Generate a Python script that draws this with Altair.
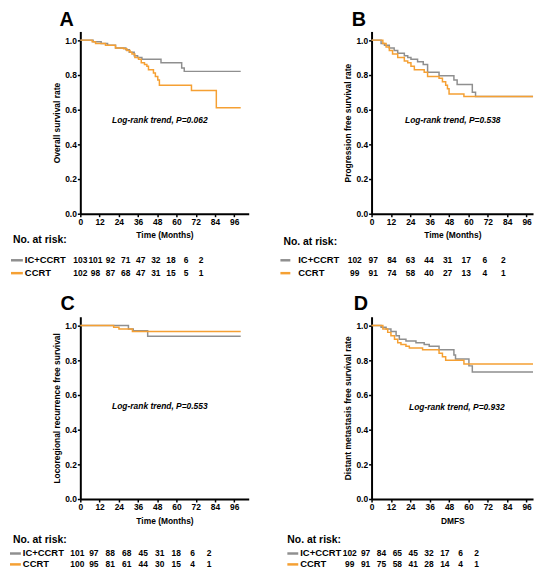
import altair as alt
import pandas as pd

FONT = "Liberation Sans"
groups = ["IC+CCRT", "CCRT"]
colors = ["#8f8f8f", "#f5a033"]
x_ticks = [0, 12, 24, 36, 48, 60, 72, 84, 96]
y_ticks = [0.0, 0.2, 0.4, 0.6, 0.8, 1.0]

# ---- Panel A: overall survival ----
a_ic_t = [0, 8, 13, 17, 22, 28.4, 30.5, 33.6, 35.7, 38.4, 50.3, 63.2, 64.8, 100]
a_ic_v = [1.0, 0.99, 0.98, 0.97, 0.955, 0.945, 0.93, 0.91, 0.90, 0.89, 0.87, 0.84, 0.82, 0.82]
a_cc_t = [0, 7.4, 9.5, 15.7, 21.9, 27, 29, 31, 32.2, 34, 36.3, 38, 40, 41.5, 42.5, 45.6, 46.8, 48.3, 49.3, 69.3, 84.8, 100]
a_cc_v = [1.0, 0.99, 0.98, 0.97, 0.955, 0.95, 0.94, 0.93, 0.92, 0.90, 0.89, 0.87, 0.86, 0.85, 0.83, 0.81, 0.79, 0.77, 0.74, 0.71, 0.61, 0.61]

# ---- Panel B: progression free survival ----
b_ic_t = [0, 5.9, 8, 11, 14, 16.2, 20.3, 22.4, 24.4, 28.5, 32, 34.7, 41.8, 51, 53, 62.4, 64.4, 100]
b_ic_v = [1.0, 0.98, 0.97, 0.955, 0.94, 0.925, 0.91, 0.90, 0.89, 0.875, 0.86, 0.815, 0.795, 0.77, 0.745, 0.70, 0.675, 0.675]
b_cc_t = [0, 7, 9, 11, 13, 16.2, 20.3, 22.4, 24.4, 26.5, 32.6, 34.7, 41.8, 43.9, 45.9, 47, 48, 57.2, 100]
b_cc_v = [1.0, 0.98, 0.96, 0.94, 0.92, 0.90, 0.88, 0.87, 0.85, 0.83, 0.815, 0.79, 0.78, 0.76, 0.74, 0.72, 0.69, 0.675, 0.675]

# ---- Panel C: locoregional recurrence free survival ----
c_ic_t = [0, 30, 33, 42, 100]
c_ic_v = [1.0, 0.98, 0.97, 0.938, 0.938]
c_cc_t = [0, 20.8, 24.1, 32.5, 100]
c_cc_v = [1.0, 0.99, 0.98, 0.965, 0.965]

# ---- Panel D: distant metastasis free survival ----
d_ic_t = [0, 5.9, 9, 12, 15.2, 17.2, 21.3, 27.5, 32.6, 35.7, 41.8, 51, 52, 60.3, 62.4, 100]
d_ic_v = [1.0, 0.99, 0.98, 0.965, 0.94, 0.92, 0.91, 0.90, 0.89, 0.88, 0.86, 0.83, 0.806, 0.767, 0.732, 0.732]
d_cc_t = [0, 7, 10, 12, 14.2, 16.2, 18.2, 21.3, 23.4, 31.6, 41.8, 43.9, 45.9, 57.2, 100]
d_cc_v = [1.0, 0.98, 0.96, 0.94, 0.92, 0.90, 0.89, 0.88, 0.87, 0.86, 0.84, 0.82, 0.80, 0.778, 0.778]

# ---- numbers at risk ----
risk_a_ic = [103, 101, 92, 71, 47, 32, 18, 6, 2]
risk_a_cc = [102, 98, 87, 68, 47, 31, 15, 5, 1]
risk_b_ic = [102, 97, 84, 63, 44, 31, 17, 6, 2]
risk_b_cc = [99, 91, 74, 58, 40, 27, 13, 4, 1]
risk_c_ic = [101, 97, 88, 68, 45, 31, 18, 6, 2]
risk_c_cc = [100, 95, 81, 61, 44, 30, 15, 4, 1]
risk_d_ic = [102, 97, 84, 65, 45, 32, 17, 6, 2]
risk_d_cc = [99, 91, 75, 58, 41, 28, 14, 4, 1]

letters = ["A", "B", "C", "D"]
y_titles = ["Overall survival rate", "Progression free survival rate",
            "Locoregional recurrence free survival", "Distant metastasis free survival rate"]
x_titles = ["Time (Months)", "Time (Months)", "Time (Months)", "DMFS"]
p_texts = ["Log-rank trend, P=0.062", "Log-rank trend, P=0.538",
           "Log-rank trend, P=0.553", "Log-rank trend, P=0.932"]
p_pos = [(49.6, 0.54), (50.3, 0.54), (49.6, 0.533), (52.8, 0.53)]
header = "No. at risk:"

color_scale = alt.Scale(domain=groups, range=colors)


def km_df(ti, vi, tc, vc):
    return pd.DataFrame({
        "t": ti + tc,
        "v": vi + vc,
        "g": [groups[0]] * len(ti) + [groups[1]] * len(tc),
    })


def plot(df, xmax, width, i, ldx, loff):
    xscale = alt.Scale(domain=[0, xmax], nice=False, zero=False)
    yscale = alt.Scale(domain=[0, 1.05], nice=False)
    xaxis = alt.Axis(values=x_ticks, title=x_titles[i], labelFlush=False,
                     labelOverlap=False, titlePadding=5)
    yaxis = alt.Axis(values=y_ticks, format=".1f", title=y_titles[i],
                     labelOverlap=False, titlePadding=3)
    lines = alt.Chart(df).mark_line(interpolate="step-after", strokeWidth=1.5).encode(
        x=alt.X("t:Q", scale=xscale, axis=xaxis),
        y=alt.Y("v:Q", scale=yscale, axis=yaxis),
        color=alt.Color("g:N", scale=color_scale, legend=None),
    )
    txt = alt.Chart(pd.DataFrame({"s": [p_texts[i]]})).mark_text(
        font=FONT, fontSize=8.5, fontWeight="bold", fontStyle="italic", color="black"
    ).encode(
        text="s:N",
        x=alt.XDatum(p_pos[i][0], type="quantitative", scale=xscale, axis=xaxis),
        y=alt.YDatum(p_pos[i][1], type="quantitative", scale=yscale, axis=yaxis),
    )
    return alt.layer(lines, txt).properties(
        width=width, height=184,
        title=alt.Title(letters[i], anchor="start", frame="group", dx=ldx, offset=loff,
                        fontSize=20, fontWeight="bold", font=FONT, color="black",
                        baseline="alphabetic"),
    )


def table(ic, cc, width, height, xr, yr, lab_x, line_x, head_xy):
    df = pd.DataFrame({
        "row": [groups[0]] * len(ic) + [groups[1]] * len(cc),
        "col": list(range(len(ic))) + list(range(len(cc))),
        "n": ic + cc,
    })
    ysc = alt.Scale(type="point", domain=groups, range=yr, padding=0)
    nums = alt.Chart(df).mark_text(font=FONT, fontSize=8.5, fontWeight="bold",
                                   align="center", baseline="middle", color="black").encode(
        x=alt.X("col:Q", scale=alt.Scale(domain=[0, 8], range=xr), axis=None),
        y=alt.Y("row:N", scale=ysc, axis=None),
        text="n:Q",
    )
    ldf = pd.DataFrame({"row": groups})
    labs = alt.Chart(ldf).mark_text(font=FONT, fontSize=9.5, fontWeight="bold",
                                    align="left", baseline="middle", color="black").encode(
        x=alt.value(lab_x), y=alt.Y("row:N", scale=ysc, axis=None), text="row:N")
    sym = alt.Chart(ldf).mark_rule(strokeWidth=2.5).encode(
        x=alt.value(line_x[0]), x2=alt.value(line_x[1]),
        y=alt.Y("row:N", scale=ysc, axis=None),
        color=alt.Color("row:N", scale=color_scale, legend=None))
    head = alt.Chart(pd.DataFrame({"h": [header]})).mark_text(
        font=FONT, fontSize=10.5, fontWeight="bold", align="left", baseline="middle",
        color="black").encode(text="h:N", x=alt.value(head_xy[0]), y=alt.value(head_xy[1]))
    return alt.layer(sym, labs, nums, head).properties(width=width, height=height)


pA = plot(km_df(a_ic_t, a_ic_v, a_cc_t, a_cc_v), 105, 170, 0, -21, -15)
pB = plot(km_df(b_ic_t, b_ic_v, b_cc_t, b_cc_v), 100, 163, 1, -20, -15)
pC = plot(km_df(c_ic_t, c_ic_v, c_cc_t, c_cc_v), 105, 170, 2, -20, -13)
pD = plot(km_df(d_ic_t, d_ic_v, d_cc_t, d_cc_v), 100, 163, 3, -18, -13)

tA = table(risk_a_ic, risk_a_cc, 170, 44, [0, 122], [17, 30], -56, (-70, -58), (-68, -3))
tB = table(risk_b_ic, risk_b_cc, 163, 44, [-17, 133], [17, 30], -74, (-92, -82), (-89, -1))
tC = table(risk_c_ic, risk_c_cc, 170, 40, [-3, 130], [25, 36], -58, (-71, -60), (-68, 11))
tD = table(risk_d_ic, risk_d_cc, 163, 40, [-22, 106], [25, 36], -72, (-85, -74), (-85, 11))

chart = alt.concat(
    pA, pB, tA, tB, pC, pD, tC, tD,
    columns=2, spacing={"row": 30, "column": 124}, bounds="flush", align="each",
).properties(padding=0).configure_view(stroke=None).configure_axis(
    domainColor="black", domainWidth=2, tickColor="black", tickWidth=1.5, tickSize=3,
    labelFont=FONT, labelFontSize=8.5, labelFontWeight="bold", labelColor="black",
    labelPadding=1, labelOverlap=False, titleFont=FONT, titleFontSize=8.5,
    titleFontWeight="bold", titleColor="black", grid=False,
)

chart.save("out.html", embed_options={"renderer": "svg", "actions": False})
